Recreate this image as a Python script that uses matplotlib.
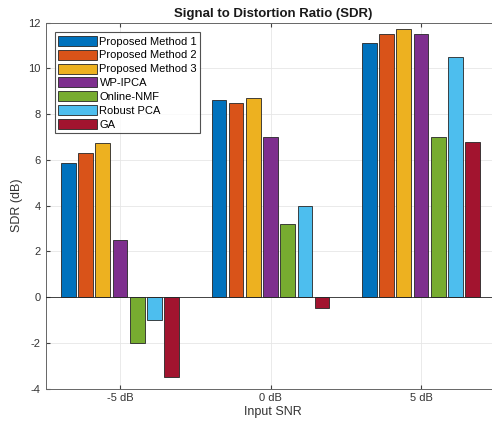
import numpy as np
import matplotlib.pyplot as plt

plt.rcParams['font.family'] = ['Liberation Sans', 'DejaVu Sans']
plt.rcParams['axes.unicode_minus'] = False

# SDR results per input SNR level
snr_labels = ['-5 dB', '0 dB', '5 dB']
methods = ['Proposed Method 1', 'Proposed Method 2', 'Proposed Method 3',
           'WP-IPCA', 'Online-NMF', 'Robust PCA', 'GA']
sdr_m1 = [5.85, 8.6, 11.1]
sdr_m2 = [6.3, 8.5, 11.5]
sdr_m3 = [6.75, 8.7, 11.7]
sdr_wpipca = [2.5, 7.0, 11.5]
sdr_onmf = [-2.0, 3.2, 7.0]
sdr_rpca = [-1.0, 4.0, 10.5]
sdr_ga = [-3.5, -0.5, 6.8]

series = [sdr_m1, sdr_m2, sdr_m3, sdr_wpipca, sdr_onmf, sdr_rpca, sdr_ga]
colors = ['#0072BD', '#D95319', '#EDB120', '#7E2F8E', '#77AC30', '#4DBEEE', '#A2142F']

fig = plt.figure(figsize=(4.92, 4.30), dpi=100)
# axes run slightly past the right edge of the figure
ax = fig.add_axes([0.0925, 0.0965, 0.9238, 0.851])

x = np.arange(1, len(snr_labels) + 1)
n = len(series)
group_w = 0.8
bw = group_w / n
for i, (vals, c, lab) in enumerate(zip(series, colors, methods)):
    offs = -group_w / 2 + bw * (i + 0.5)
    ax.bar(x + offs, vals, width=bw * 0.85, color=c, edgecolor='#262626',
           linewidth=0.6, label=lab, zorder=3)

ax.axhline(0, color='#262626', linewidth=0.6, zorder=4)
ax.set_xlim(0.505, 3.525)
ax.set_ylim(-4, 12)
ax.set_xticks(x)
ax.set_xticklabels(snr_labels)
ax.set_yticks(np.arange(-4, 13, 2))
ax.grid(True, color='#e6e6e6', linewidth=0.6, zorder=0)
ax.tick_params(direction='in', length=3, colors='#404040', labelsize=8,
               top=True, right=True, labelcolor='#333333')
for sp in ax.spines.values():
    sp.set_color('#666666')
    sp.set_linewidth(0.7)

ax.set_xlabel('Input SNR', fontsize=9, color='#333333', labelpad=2)
ax.set_ylabel('SDR (dB)', fontsize=9, color='#333333', labelpad=4)
ax.set_title('Signal to Distortion Ratio (SDR)', fontsize=9.5, fontweight='bold',
             color='#1a1a1a', pad=4)

leg = ax.legend(loc='upper left', bbox_to_anchor=(0.021, 0.973), fontsize=8,
                frameon=True, fancybox=False, edgecolor='#262626',
                handlelength=3.5, handleheight=1.0, handletextpad=0.2,
                labelspacing=0.28, borderpad=0.3, borderaxespad=0.0)
leg.get_frame().set_linewidth(0.8)

fig.savefig('out.png', dpi=100)
